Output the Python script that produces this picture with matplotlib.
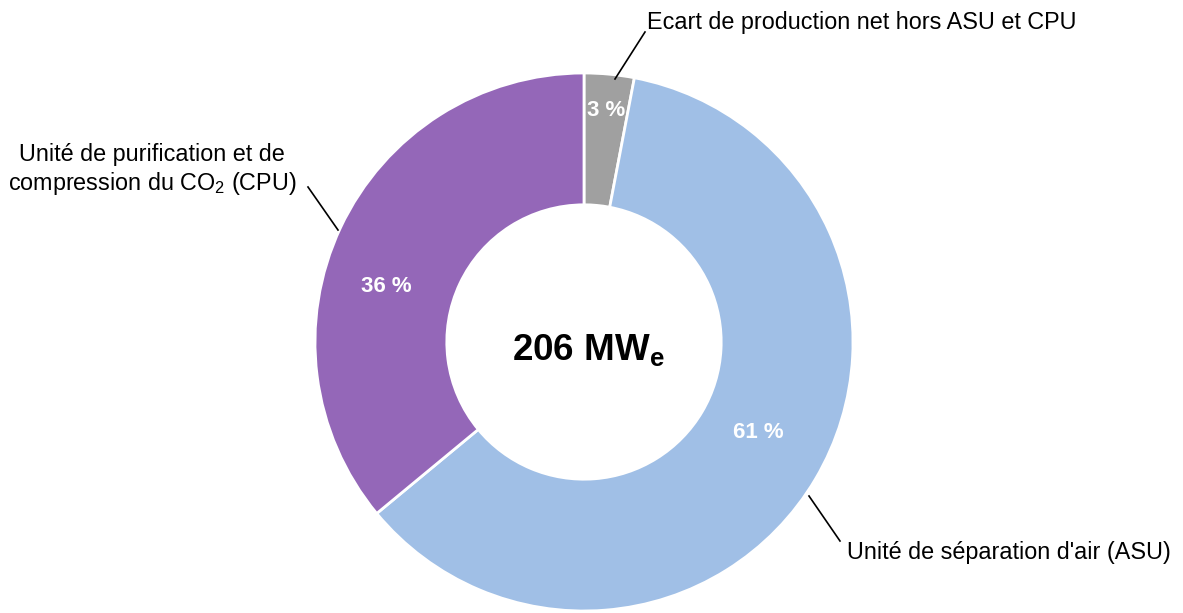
import matplotlib
matplotlib.use("Agg")
import matplotlib.pyplot as plt

plt.rcParams['font.family'] = ['Liberation Sans', 'DejaVu Sans']
plt.rcParams['mathtext.fontset'] = 'custom'
plt.rcParams['mathtext.rm'] = 'Liberation Sans'
plt.rcParams['mathtext.bf'] = 'Liberation Sans:bold'
plt.rcParams['mathtext.it'] = 'Liberation Sans:italic'

# donnees
labels = ["Ecart de production net hors ASU et CPU",
          "Unité de séparation d'air (ASU)",
          "Unité de purification et de\ncompression du CO$_2$ (CPU)"]
parts = [3, 61, 36]
colors = ["#a0a0a0", "#a0bfe6", "#9467b8"]
total_label = r"$\mathbf{206\ MW_e}$"

W, H = 1183, 613
fig = plt.figure(figsize=(W / 100, H / 100), dpi=100)
ax = fig.add_axes([0, 0, 1, 1])

cx, cy, r = 584, H - 342, 269
wedges, _ = ax.pie(parts, colors=colors, startangle=90, counterclock=False,
                   center=(cx, cy), radius=r,
                   wedgeprops=dict(width=r * 0.49, edgecolor='white', linewidth=2))
ax.set_xlim(0, W)
ax.set_ylim(0, H)
ax.set_aspect('auto')
ax.axis('off')

# pourcentages dans les parts
pct_pos = [(606, 110), (758, 433), (386, 286)]
for p, (x, y) in zip(parts, pct_pos):
    ax.text(x, H - y, f"{p} %", color='white', fontsize=16, fontweight='bold',
            ha='center', va='center')

ax.text(cx + 4, H - 350, total_label, fontsize=26.5, ha='center', va='center')

# etiquettes avec traits
ax.plot([615, 645], [H - 79, H - 32], color='black', lw=1.2)
ax.text(647, H - 22, labels[0], fontsize=16.8, ha='left', va='center')

ax.plot([809, 840], [H - 496, H - 541], color='black', lw=1.2)
ax.text(847, H - 552, labels[1], fontsize=16.8, ha='left', va='center')

ax.plot([308, 338], [H - 187, H - 230], color='black', lw=1.2)
ax.text(152, H - 170, labels[2], fontsize=16.8, ha='center', va='center',
        linespacing=1.2)

fig.savefig("out.png", dpi=100)
